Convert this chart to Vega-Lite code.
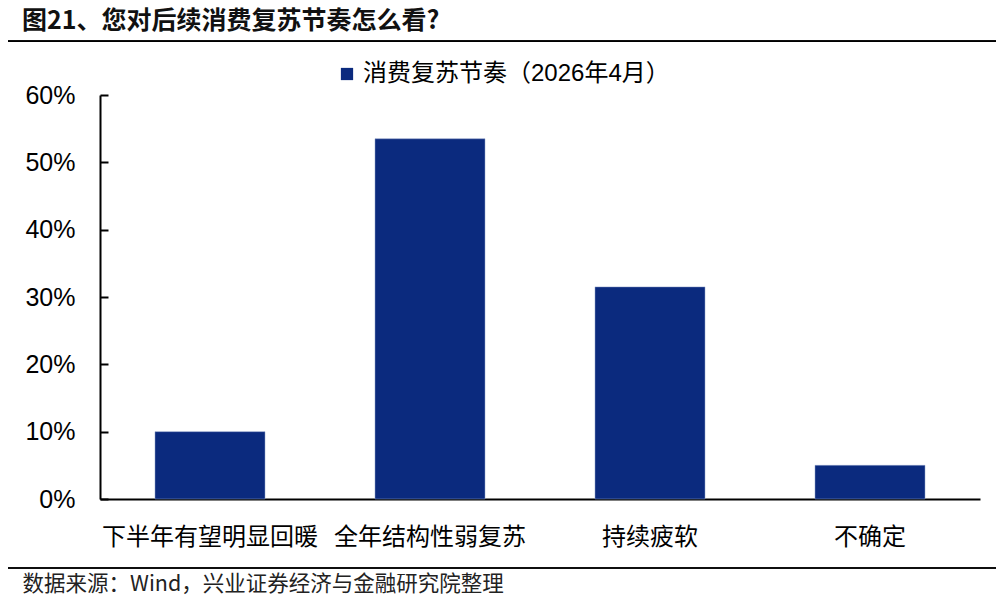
{
  "$schema": "https://vega.github.io/schema/vega-lite/v6.json",
  "width": 880,
  "height": 404,
  "autosize": {"type": "none"},
  "padding": {"left": 100, "top": 95, "right": 24, "bottom": 109},
  "background": "white",
  "title": {
    "text": "图21、您对后续消费复苏节奏怎么看?",
    "anchor": "start",
    "frame": "group",
    "font": "Noto Sans CJK SC",
    "fontSize": 25,
    "fontWeight": "bold",
    "color": "#111111",
    "dx": -78,
    "offset": 6
  },
  "config": {"view": {"stroke": null}},
  "data": {
    "values": [
      {"category": "下半年有望明显回暖", "value": 0.10, "series": "消费复苏节奏（2026年4月）"},
      {"category": "全年结构性弱复苏", "value": 0.535, "series": "消费复苏节奏（2026年4月）"},
      {"category": "持续疲软", "value": 0.315, "series": "消费复苏节奏（2026年4月）"},
      {"category": "不确定", "value": 0.05, "series": "消费复苏节奏（2026年4月）"}
    ]
  },
  "layer": [
    {
      "mark": {"type": "bar", "stroke": "#8fa0c8", "strokeWidth": 0.5},
      "encoding": {
        "x": {
          "field": "category",
          "type": "nominal",
          "sort": null,
          "scale": {"paddingInner": 0.5, "paddingOuter": 0.25},
          "axis": {
            "labelAngle": 0,
            "ticks": false,
            "domainColor": "#000000",
            "domainWidth": 2,
            "labelPadding": 26,
            "labelFont": "Noto Sans CJK SC",
            "labelFontSize": 24,
            "labelLimit": 400,
            "labelColor": "#000000",
            "title": "数据来源：Wind，兴业证券经济与金融研究院整理",
            "titleFont": "Noto Sans CJK SC",
            "titleFontSize": 21.5,
            "titleFontWeight": "normal",
            "titleColor": "#222222",
            "titleAnchor": "start",
            "titleAlign": "left",
            "titleBaseline": "middle",
            "titleX": -78,
            "titleY": 85
          }
        },
        "y": {
          "field": "value",
          "type": "quantitative",
          "scale": {"domain": [0, 0.6], "nice": false},
          "axis": {
            "values": [0, 0.1, 0.2, 0.3, 0.4, 0.5, 0.6],
            "format": ".0%",
            "grid": false,
            "domainColor": "#000000",
            "domainWidth": 2,
            "tickColor": "#000000",
            "tickWidth": 2,
            "tickSize": -8,
            "labelPadding": 33,
            "labelFont": "Liberation Sans",
            "labelFontSize": 25,
            "labelColor": "#000000",
            "title": null
          }
        },
        "color": {
          "field": "series",
          "type": "nominal",
          "scale": {"range": ["#0B2A7E"]},
          "legend": {
            "orient": "none",
            "legendX": 235,
            "legendY": -33,
            "title": null,
            "symbolType": "square",
            "symbolSize": 150,
            "symbolStrokeWidth": 0,
            "labelFont": "Liberation Sans, Noto Sans CJK SC",
            "labelFontSize": 24,
            "labelColor": "#000000",
            "labelLimit": 400
          }
        }
      }
    },
    {
      "mark": {"type": "rule", "color": "#000000", "strokeWidth": 1.5},
      "encoding": {
        "y": {"datum": 0.68, "type": "quantitative"},
        "x": {"value": -92},
        "x2": {"value": 896}
      }
    },
    {
      "mark": {"type": "rule", "color": "#000000", "strokeWidth": 1.2},
      "encoding": {
        "y": {"datum": -0.1025, "type": "quantitative"},
        "x": {"value": -92},
        "x2": {"value": 896}
      }
    }
  ]
}
